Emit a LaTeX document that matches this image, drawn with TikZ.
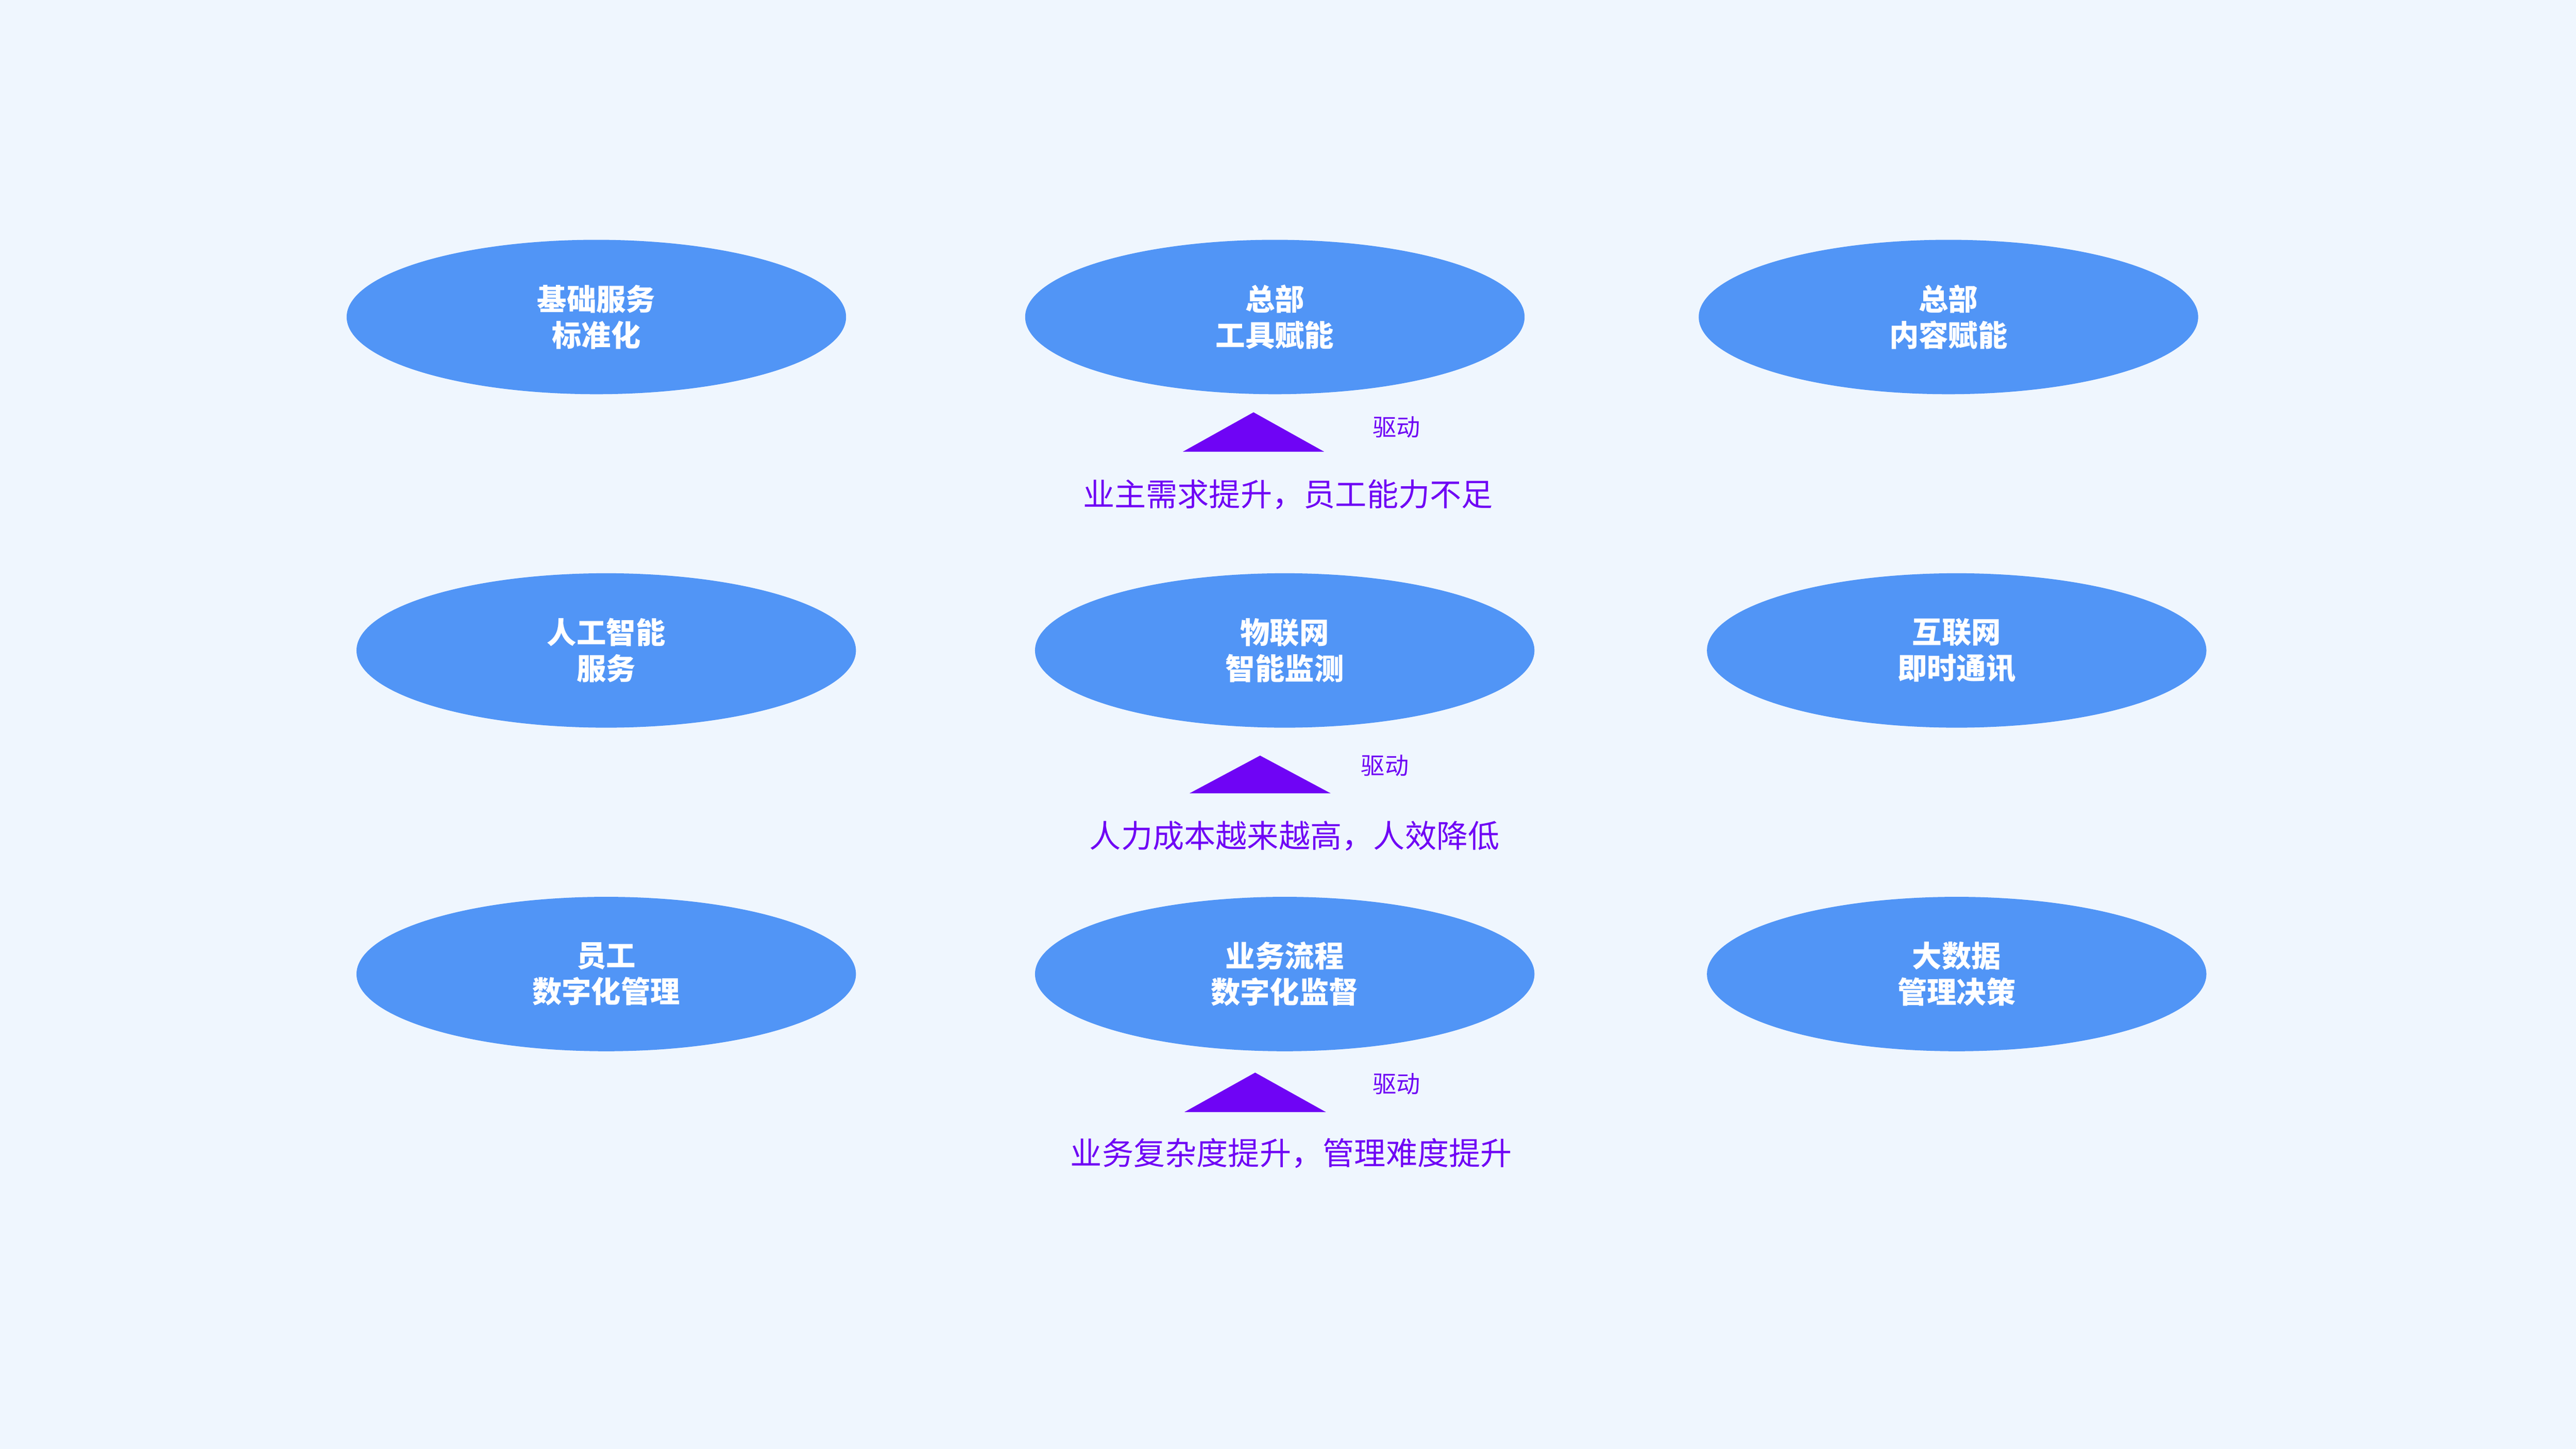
\documentclass[tikz,border=0pt]{standalone}
\usepackage{fontspec}
\setmainfont{Noto Sans CJK SC}
\usetikzlibrary{shapes.geometric}
\definecolor{bgblue}{HTML}{EFF6FE}
\definecolor{capblue}{HTML}{5195F6}
\definecolor{drivepurple}{HTML}{6F04F5}
\tikzstyle{ability}=[ellipse, fill=capblue, text=white, align=center, minimum width=304pt, minimum height=94pt, font=\fontsize{18}{22}\selectfont\bfseries, execute at begin node={\vspace*{5pt}}]
\tikzstyle{drive}=[fill=drivepurple]
\tikzstyle{tagtext}=[inner sep=0pt, text=drivepurple, font=\fontsize{14.5}{16}\selectfont]
\tikzstyle{cause}=[inner sep=0pt, text=drivepurple, font=\fontsize{19.2}{22}\selectfont]
\begin{document}
\begin{tikzpicture}[x=1pt,y=-1pt]
				%The background
				\fill[bgblue] (0,0) rectangle (1568,882);
				\useasboundingbox (0,0) rectangle (1568,882);
				
				%The top row
				\draw (363,193) node[ability] (base) {基础服务\\标准化};
				\draw (776,193) node[ability] (tool) {总部\\工具赋能};
				\draw (1186,193) node[ability] (content) {总部\\内容赋能};
				
				%The middle row
				\draw (369,396) node[ability] (ai) {人工智能\\服务};
				\draw (782,396) node[ability] (iot) {物联网\\智能监测};
				\draw (1191,396) node[ability] (im) {互联网\\即时通讯};
				
				%The bottom row
				\draw (369,593) node[ability] (staff) {员工\\数字化管理};
				\draw (782,593) node[ability] (flow) {业务流程\\数字化监督};
				\draw (1191,593) node[ability] (data) {大数据\\管理决策};
				
				%The drivers
				\coordinate (d1) at (763,275);
				\coordinate (d2) at (767,483);
				\coordinate (d3) at (764,677);
				
				\fill[drive] (d1) ++(-43,0) -- ++(43,-24) -- ++(43,24) -- cycle;
				\fill[drive] (d2) ++(-43,0) -- ++(43,-23) -- ++(43,23) -- cycle;
				\fill[drive] (d3) ++(-43,0) -- ++(43,-24) -- ++(43,24) -- cycle;
				
				\draw (850,260) node[tagtext] (t1) {驱动};
				\draw (843,466) node[tagtext] (t2) {驱动};
				\draw (850,660) node[tagtext] (t3) {驱动};
				
				\draw (784,301) node[cause] (c1) {业主需求提升，员工能力不足};
				\draw (788,509) node[cause] (c2) {人力成本越来越高，人效降低};
				\draw (786,702) node[cause] (c3) {业务复杂度提升，管理难度提升};
			\end{tikzpicture}
\end{document}
